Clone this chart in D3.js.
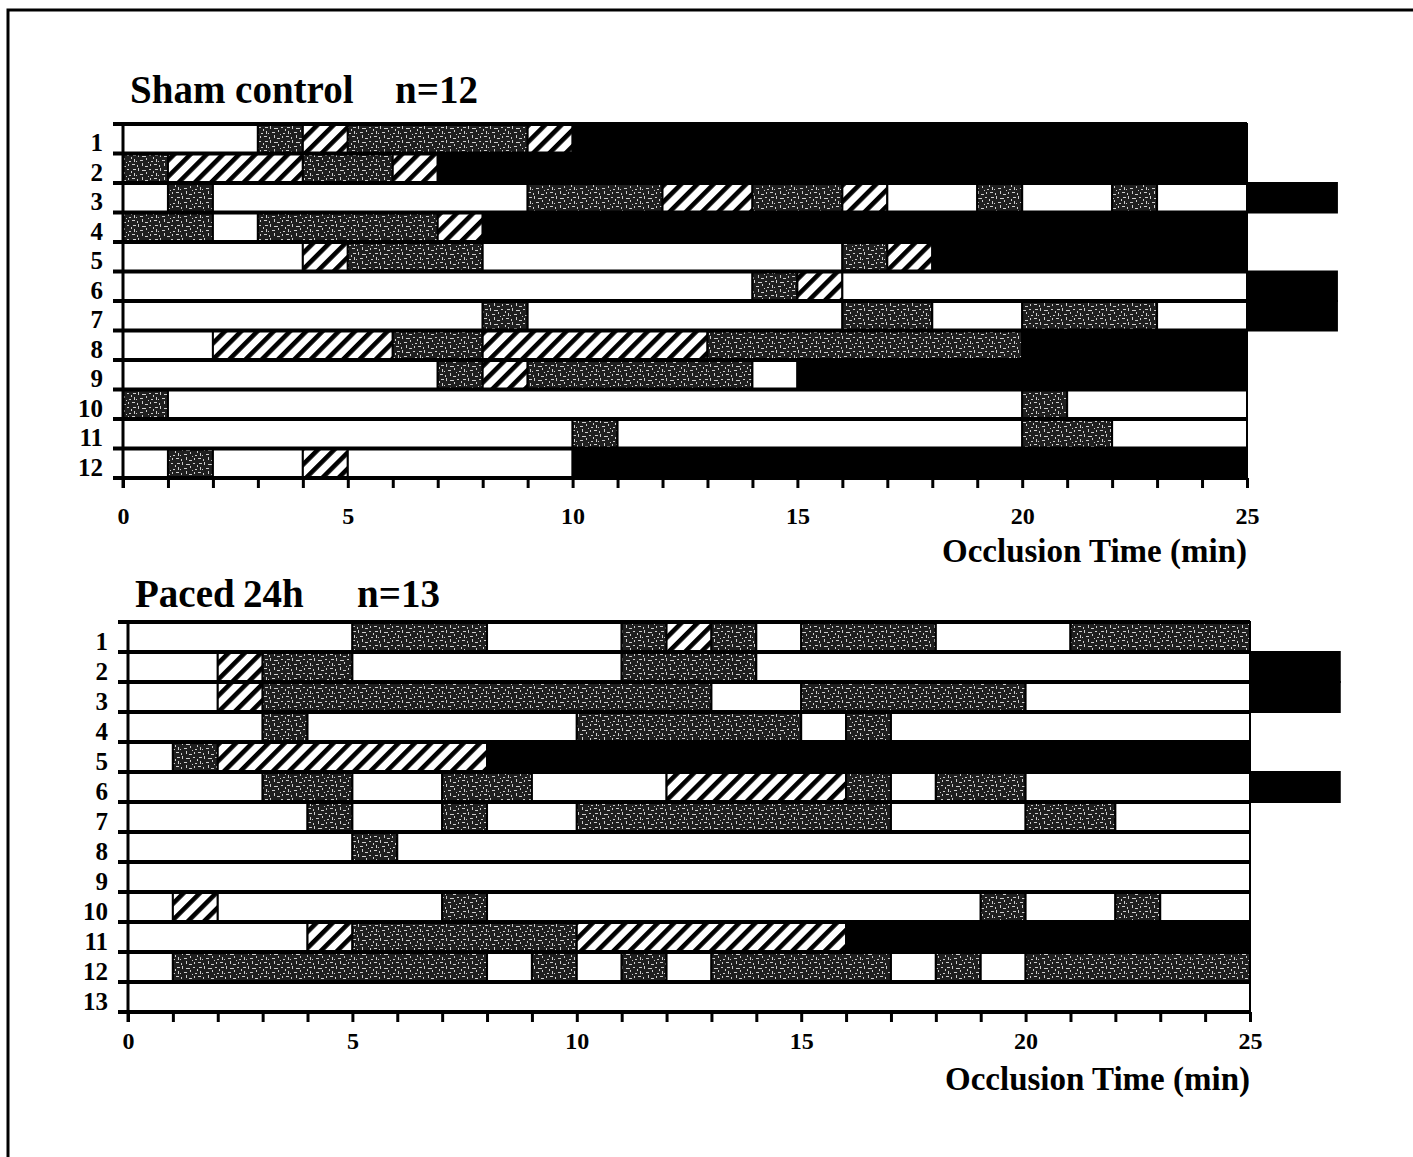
<!DOCTYPE html>
<html>
<head>
<meta charset="utf-8">
<script src="https://cdn.jsdelivr.net/npm/d3@7"></script>
<style>
  body { margin: 0; background: #fff; }
  svg { display: block; }
  text { font-family: "Liberation Serif", "Times New Roman", serif; font-weight: bold; fill: #000; }
</style>
</head>
<body>
<svg id="chart"></svg>
<script>
// Arrhythmia states: N = none, P = ectopic beats (stippled), T = tachycardia (hatched), F = fibrillation (black)
// Each animal is a list of [start min, end min, state]
const shamRows = [
  [[0,3,"N"],[3,4,"P"],[4,5,"T"],[5,9,"P"],[9,10,"T"],[10,25,"F"]],
  [[0,1,"P"],[1,4,"T"],[4,6,"P"],[6,7,"T"],[7,25,"F"]],
  [[0,1,"N"],[1,2,"P"],[2,9,"N"],[9,12,"P"],[12,14,"T"],[14,16,"P"],[16,17,"T"],[17,19,"N"],[19,20,"P"],[20,22,"N"],[22,23,"P"],[23,25,"N"],[25,27,"F"]],
  [[0,2,"P"],[2,3,"N"],[3,7,"P"],[7,8,"T"],[8,25,"F"]],
  [[0,4,"N"],[4,5,"T"],[5,8,"P"],[8,16,"N"],[16,17,"P"],[17,18,"T"],[18,25,"F"]],
  [[0,14,"N"],[14,15,"P"],[15,16,"T"],[16,25,"N"],[25,27,"F"]],
  [[0,8,"N"],[8,9,"P"],[9,16,"N"],[16,18,"P"],[18,20,"N"],[20,23,"P"],[23,25,"N"],[25,27,"F"]],
  [[0,2,"N"],[2,6,"T"],[6,8,"P"],[8,13,"T"],[13,20,"P"],[20,25,"F"]],
  [[0,7,"N"],[7,8,"P"],[8,9,"T"],[9,14,"P"],[14,15,"N"],[15,25,"F"]],
  [[0,1,"P"],[1,20,"N"],[20,21,"P"],[21,25,"N"]],
  [[0,10,"N"],[10,11,"P"],[11,20,"N"],[20,22,"P"],[22,25,"N"]],
  [[0,1,"N"],[1,2,"P"],[2,4,"N"],[4,5,"T"],[5,10,"N"],[10,25,"F"]]
];

const pacedRows = [
  [[0,5,"N"],[5,8,"P"],[8,11,"N"],[11,12,"P"],[12,13,"T"],[13,14,"P"],[14,15,"N"],[15,18,"P"],[18,21,"N"],[21,25,"P"]],
  [[0,2,"N"],[2,3,"T"],[3,5,"P"],[5,11,"N"],[11,14,"P"],[14,25,"N"],[25,27,"F"]],
  [[0,2,"N"],[2,3,"T"],[3,13,"P"],[13,15,"N"],[15,20,"P"],[20,25,"N"],[25,27,"F"]],
  [[0,3,"N"],[3,4,"P"],[4,10,"N"],[10,15,"P"],[15,16,"N"],[16,17,"P"],[17,25,"N"]],
  [[0,1,"N"],[1,2,"P"],[2,8,"T"],[8,25,"F"]],
  [[0,3,"N"],[3,5,"P"],[5,7,"N"],[7,9,"P"],[9,12,"N"],[12,16,"T"],[16,17,"P"],[17,18,"N"],[18,20,"P"],[20,25,"N"],[25,27,"F"]],
  [[0,4,"N"],[4,5,"P"],[5,7,"N"],[7,8,"P"],[8,10,"N"],[10,17,"P"],[17,20,"N"],[20,22,"P"],[22,25,"N"]],
  [[0,5,"N"],[5,6,"P"],[6,25,"N"]],
  [[0,25,"N"]],
  [[0,1,"N"],[1,2,"T"],[2,7,"N"],[7,8,"P"],[8,19,"N"],[19,20,"P"],[20,22,"N"],[22,23,"P"],[23,25,"N"]],
  [[0,4,"N"],[4,5,"T"],[5,10,"P"],[10,16,"T"],[16,25,"F"]],
  [[0,1,"N"],[1,8,"P"],[8,9,"N"],[9,10,"P"],[10,11,"N"],[11,12,"P"],[12,13,"N"],[13,17,"P"],[17,18,"N"],[18,19,"P"],[19,20,"N"],[20,25,"P"]],
  [[0,25,"N"]]
];

const minuteTicks = d3.range(0, 26);
const labelledTicks = [0, 5, 10, 15, 20, 25];
const axisLabel = "Occlusion Time (min)";

const width = 1413;
const height = 1157;

const svg = d3.select("#chart")
  .attr("width", width)
  .attr("height", height);

// Patterns for the stippled and hatched states
const defs = svg.append("defs");

const stipple = defs.append("pattern")
  .attr("id", "stipple")
  .attr("patternUnits", "userSpaceOnUse")
  .attr("width", 22)
  .attr("height", 14);
stipple.append("rect").attr("width", 22).attr("height", 14).attr("fill", "#1f1f1f");
const specks = [[1,1,3,1],[6,0,1,3],[10,2,4,1],[17,1,2,1],[2,5,1,3],[8,6,3,1],[14,4,1,2],
  [19,7,2,1],[0,10,3,1],[5,11,1,2],[10,9,1,3],[13,12,3,1],[18,10,1,2],[4,7,1,1],[16,8,1,1],[21,3,1,2]];
stipple.selectAll("rect.s")
  .data(specks)
  .enter()
  .append("rect")
  .attr("class", "s")
  .attr("x", d => d[0]).attr("y", d => d[1])
  .attr("width", d => d[2]).attr("height", d => d[3])
  .attr("fill", "#cfcfcf");

const hatch = defs.append("pattern")
  .attr("id", "hatch")
  .attr("patternUnits", "userSpaceOnUse")
  .attr("width", 11.5)
  .attr("height", 11.5)
  .attr("patternTransform", "rotate(45)");
hatch.append("rect").attr("width", 11.5).attr("height", 11.5).attr("fill", "#fff");
hatch.append("rect").attr("width", 4.6).attr("height", 11.5).attr("fill", "#000");

const stateFill = { N: "#fff", P: "url(#stipple)", T: "url(#hatch)", F: "#000" };

// Page frame (top and left edges only)
svg.append("path")
  .attr("d", `M8,${height} V10 H${width + 5}`)
  .attr("fill", "none")
  .attr("stroke", "#000")
  .attr("stroke-width", 3);

const panels = [
  {
    rows: shamRows,
    title: [["Sham control", 130], ["n=12", 395]],
    titleY: 103,
    xRange: [123, 1247],
    yRange: [124, 478],
    tickPad: 19,
    axisTitleY: 562
  },
  {
    rows: pacedRows,
    title: [["Paced", 135], ["24h", 243], ["n=13", 357]],
    titleY: 607,
    xRange: [128, 1250],
    yRange: [622, 1012],
    tickPad: 10,
    axisTitleY: 1090
  }
];

panels.forEach(p => {
  const x = d3.scaleLinear().domain([0, 25]).range(p.xRange);
  const y = d3.scaleBand()
    .domain(d3.range(1, p.rows.length + 1))
    .range(p.yRange);
  const bw = y.bandwidth();

  const g = svg.append("g");

  // Segments
  p.rows.forEach((segs, i) => {
    g.selectAll(null)
      .data(segs)
      .enter()
      .append("rect")
      .attr("x", d => x(d[0]))
      .attr("y", y(i + 1))
      .attr("width", d => x(d[1]) - x(d[0]))
      .attr("height", bw)
      .attr("fill", d => stateFill[d[2]])
      .attr("stroke", "#000")
      .attr("stroke-width", 2);
  });

  // Thick row separators
  g.selectAll("line.sep")
    .data(d3.range(0, p.rows.length + 1))
    .enter()
    .append("line")
    .attr("class", "sep")
    .attr("x1", x(0) - 10)
    .attr("x2", x(25))
    .attr("y1", k => p.yRange[0] + k * bw)
    .attr("y2", k => p.yRange[0] + k * bw)
    .attr("stroke", "#000")
    .attr("stroke-width", 4);

  // Vertical axis line
  g.append("line")
    .attr("x1", x(0)).attr("x2", x(0))
    .attr("y1", p.yRange[0] - 2).attr("y2", p.yRange[1] + 10)
    .attr("stroke", "#000")
    .attr("stroke-width", 3);

  // Row labels
  g.selectAll("text.row")
    .data(d3.range(1, p.rows.length + 1))
    .enter()
    .append("text")
    .attr("class", "row")
    .attr("x", x(0) - 20)
    .attr("y", d => y(d) + bw / 2 + 4)
    .attr("text-anchor", "end")
    .attr("dominant-baseline", "central")
    .style("font-size", "25px")
    .text(d => d);

  // X axis
  const axis = g.append("g")
    .attr("transform", `translate(0,${p.yRange[1]})`)
    .call(d3.axisBottom(x)
      .tickValues(minuteTicks)
      .tickSize(10)
      .tickPadding(p.tickPad)
      .tickFormat(d => labelledTicks.includes(d) ? d : ""));
  axis.select(".domain").remove();
  axis.selectAll(".tick line").attr("stroke", "#000").attr("stroke-width", 3);
  axis.selectAll(".tick text")
    .style("font-size", "24px")
    .style("font-family", "\"Liberation Serif\", serif")
    .style("font-weight", "bold")
    .attr("fill", "#000");

  // Axis title
  g.append("text")
    .attr("x", x(25))
    .attr("y", p.axisTitleY)
    .attr("text-anchor", "end")
    .style("font-size", "33px")
    .text(axisLabel);

  // Panel title
  g.selectAll("text.title")
    .data(p.title)
    .enter()
    .append("text")
    .attr("class", "title")
    .attr("x", d => d[1])
    .attr("y", p.titleY)
    .style("font-size", "39px")
    .text(d => d[0]);
});
</script>
</body>
</html>
